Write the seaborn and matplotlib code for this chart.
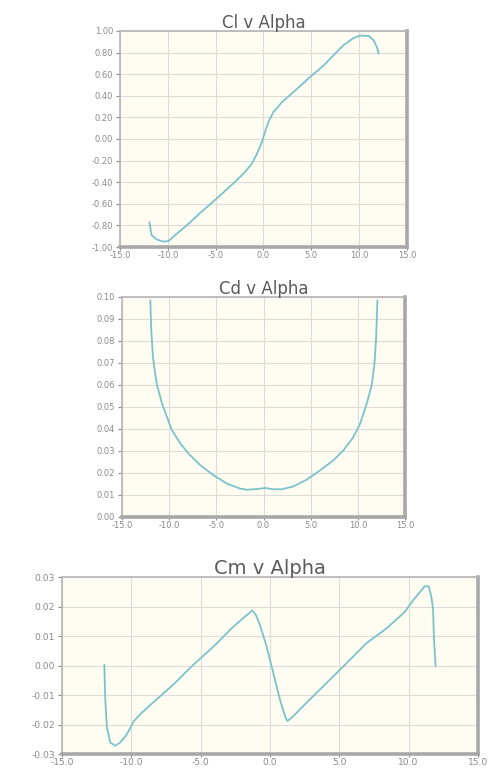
import matplotlib
matplotlib.use("Agg")
import matplotlib.pyplot as plt
import seaborn as sns
import pandas as pd

# Cl v Alpha
cl_alpha = [-11.93, -11.7, -11.16, -10.47, -9.94, -9.24, -8.02, -6.63, -4.88,
            -3.14, -2.09, -1.22, -0.70, -0.17, 0.10, 0.52, 1.04, 1.92, 3.14,
            4.88, 6.28, 7.32, 8.37, 9.42, 10.1, 11.0, 11.5, 11.86, 12.03]
cl_vals = [-0.77, -0.89, -0.93, -0.95, -0.945, -0.89, -0.80, -0.685, -0.55,
           -0.41, -0.32, -0.23, -0.14, -0.03, 0.05, 0.16, 0.25, 0.34, 0.435,
           0.575, 0.68, 0.775, 0.87, 0.935, 0.957, 0.954, 0.914, 0.85, 0.79]

# Cd v Alpha
cd_alpha = [-12.0, -11.9, -11.72, -11.54, -11.29, -10.76, -10.24, -9.7, -8.8,
            -7.94, -6.7, -5.3, -3.88, -2.47, -1.76, -0.71, 0.18, 1.06, 1.94,
            3.18, 4.59, 6.0, 7.41, 8.47, 9.53, 10.24, 10.94, 11.47, 11.76,
            11.94, 12.07]
cd_vals = [0.0985, 0.085, 0.0727, 0.0667, 0.060, 0.0515, 0.0455, 0.0394,
           0.0333, 0.0288, 0.0235, 0.019, 0.0152, 0.0129, 0.0124, 0.0127,
           0.0132, 0.0126, 0.0126, 0.0139, 0.0170, 0.0212, 0.0258, 0.0303,
           0.0364, 0.0424, 0.0515, 0.060, 0.0697, 0.0818, 0.0985]

# Cm v Alpha
cm_alpha = [-11.95, -11.88, -11.76, -11.52, -11.16, -10.8, -10.32, -9.84,
            -9.36, -8.4, -6.96, -5.52, -4.08, -2.64, -1.68, -1.27, -1.01,
            -0.72, -0.24, 0.24, 0.72, 1.08, 1.25, 1.56, 2.64, 4.08, 5.52,
            6.96, 8.4, 9.72, 10.32, 11.16, 11.45, 11.64, 11.76, 11.83, 11.95]
cm_vals = [0.0003, -0.0115, -0.021, -0.0261, -0.0272, -0.0261, -0.0233,
           -0.019, -0.0165, -0.0124, -0.0064, 0.0003, 0.0064, 0.0132, 0.0171,
           0.0187, 0.0171, 0.0137, 0.0064, -0.0025, -0.0115, -0.0171, -0.0188,
           -0.0177, -0.0126, -0.0059, 0.0008, 0.0076, 0.0126, 0.0182, 0.0221,
           0.0269, 0.0269, 0.0233, 0.0194, 0.0087, -0.0003]

xticks = [-15, -10, -5, 0, 5, 10, 15]
cl_ticks = [-1.0, -0.8, -0.6, -0.4, -0.2, 0.0, 0.2, 0.4, 0.6, 0.8, 1.0]
cd_ticks = [0.0, 0.01, 0.02, 0.03, 0.04, 0.05, 0.06, 0.07, 0.08, 0.09, 0.10]
cm_ticks = [-0.03, -0.02, -0.01, 0.0, 0.01, 0.02, 0.03]

sns.set_style("white")
plt.rcParams['font.family'] = ['DejaVu Sans']

LINE = "#7cc3c9"
BG = "#fffcf2"
GRID = "#dcdcdc"
TXT = "#8a8a8a"

fig = plt.figure(figsize=(4.94, 7.69), dpi=100)

panels = [
    ([0.2429, 0.6788, 0.581, 0.2809], "Cl v Alpha", cl_alpha, cl_vals,
     cl_ticks, 12, 6.0),
    ([0.247, 0.3277, 0.5729, 0.2861], "Cd v Alpha", cd_alpha, cd_vals,
     cd_ticks, 12, 6.0),
    ([0.1255, 0.0195, 0.842, 0.2300], "Cm v Alpha", cm_alpha, cm_vals,
     cm_ticks, 14, 6.6),
]

for rect, title, xs, ys, yt, tsize, lsize in panels:
    ax = fig.add_axes(rect)
    df = pd.DataFrame({"alpha": xs, "coef": ys})
    sns.lineplot(data=df, x="alpha", y="coef", ax=ax, color=LINE,
                 linewidth=1.3, sort=False)
    ax.set_facecolor(BG)
    ax.set_xlim(-15, 15)
    ax.set_ylim(yt[0], yt[-1])
    ax.set_xticks(xticks)
    ax.set_xticklabels(["{:.1f}".format(v) for v in xticks])
    ax.set_yticks(yt)
    ax.set_yticklabels(["{:.2f}".format(v) for v in yt])
    ax.grid(True, color=GRID, linewidth=0.8)
    ax.set_axisbelow(True)
    ax.set_xlabel("")
    ax.set_ylabel("")
    ax.tick_params(axis="both", labelsize=lsize, colors=TXT, width=0.8,
                   direction="out", left=True, bottom=True)
    ax.tick_params(axis="y", length=3, pad=2)
    ax.tick_params(axis="x", length=2, pad=1)
    for side in ["left", "top"]:
        ax.spines[side].set_color("#b5b5b5")
        ax.spines[side].set_linewidth(1.2)
    for side in ["right", "bottom"]:
        ax.spines[side].set_color("#a8a8a8")
        ax.spines[side].set_linewidth(2.6)
    ax.set_title(title, fontsize=tsize, color="#5a5a5a", pad=2)

fig.savefig("out.png", dpi=100, facecolor="white")
